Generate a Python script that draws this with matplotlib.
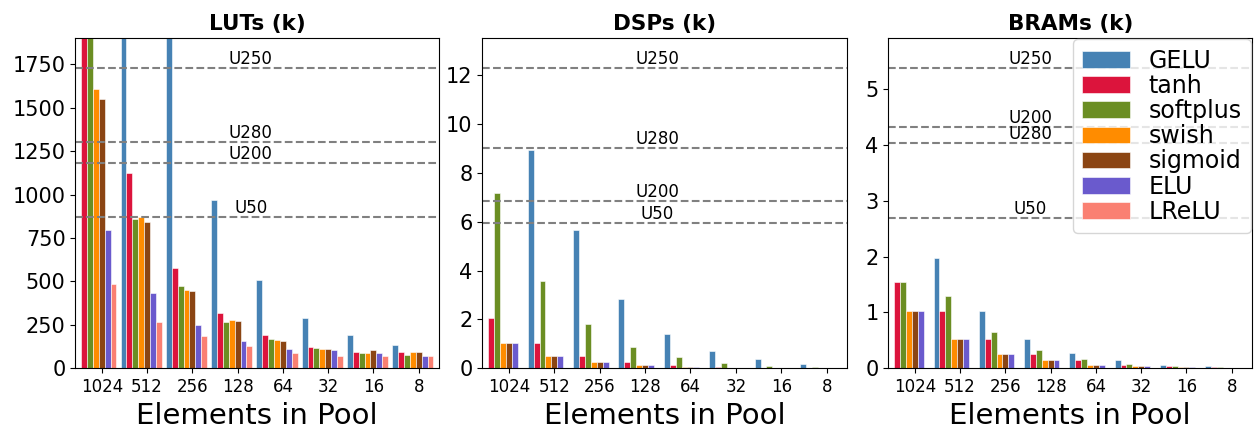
import numpy as np
import matplotlib
matplotlib.use("Agg")
import matplotlib.pyplot as plt
from matplotlib.ticker import MultipleLocator

pool_sizes = ["1024", "512", "256", "128", "64", "32", "16", "8"]
activations = ["GELU", "tanh", "softplus", "swish", "sigmoid", "ELU", "LReLU"]
colors = ["steelblue", "crimson", "olivedrab", "darkorange", "saddlebrown", "slateblue", "salmon"]

# LUT usage (thousands) per activation, one value per pool size
luts_gelu     = [0, 3880, 1940, 971, 507, 289, 191, 136]
luts_tanh     = [2240, 1124, 576, 319, 191, 124, 94, 94]
luts_softplus = [2000, 861, 472, 264, 166, 119, 88, 76]
luts_swish    = [1610, 868, 453, 277, 163, 111, 88, 94]
luts_sigmoid  = [1549, 843, 442, 270, 155, 111, 105, 94]
luts_elu      = [794, 436, 247, 155, 111, 105, 88, 71]
luts_lrelu    = [484, 264, 186, 130, 88, 71, 71, 71]

# DSP usage (thousands)
dsps_gelu     = [0, 8.93, 5.67, 2.84, 1.41, 0.71, 0.37, 0.19]
dsps_tanh     = [2.06, 1.02, 0.49, 0.27, 0.14, 0.05, 0.0, 0.0]
dsps_softplus = [7.19, 3.58, 1.80, 0.87, 0.45, 0.23, 0.10, 0.04]
dsps_swish    = [1.02, 0.49, 0.27, 0.14, 0.05, 0.0, 0.0, 0.0]
dsps_sigmoid  = [1.02, 0.49, 0.27, 0.14, 0.05, 0.0, 0.0, 0.0]
dsps_elu      = [1.02, 0.49, 0.27, 0.14, 0.05, 0.0, 0.0, 0.0]
dsps_lrelu    = [0, 0, 0, 0, 0, 0, 0, 0]

# BRAM usage (thousands)
brams_gelu     = [0, 1.97, 1.03, 0.52, 0.27, 0.14, 0.06, 0.04]
brams_tanh     = [1.545, 1.03, 0.52, 0.26, 0.14, 0.06, 0.04, 0.02]
brams_softplus = [1.545, 1.30, 0.65, 0.33, 0.16, 0.08, 0.04, 0.02]
brams_swish    = [1.03, 0.52, 0.26, 0.14, 0.06, 0.04, 0.02, 0.01]
brams_sigmoid  = [1.03, 0.52, 0.26, 0.14, 0.06, 0.04, 0.02, 0.01]
brams_elu      = [1.03, 0.52, 0.26, 0.14, 0.06, 0.04, 0.02, 0.01]
brams_lrelu    = [0, 0, 0, 0, 0, 0, 0, 0]

# Device capacities (thousands)
devices = ["U250", "U280", "U200", "U50"]
lut_capacity = [1728, 1304, 1182, 872]
dsp_capacity = [12.288, 9.024, 6.840, 5.952]
bram_capacity = [5.376, 4.032, 4.320, 2.688]

panels = [
    ("LUTs (k)", [luts_gelu, luts_tanh, luts_softplus, luts_swish, luts_sigmoid, luts_elu, luts_lrelu],
     lut_capacity, 3.29, 250),
    ("DSPs (k)", [dsps_gelu, dsps_tanh, dsps_softplus, dsps_swish, dsps_sigmoid, dsps_elu, dsps_lrelu],
     dsp_capacity, 3.27, 2),
    ("BRAMs (k)", [brams_gelu, brams_tanh, brams_softplus, brams_swish, brams_sigmoid, brams_elu, brams_lrelu],
     bram_capacity, 2.55, 1),
]

W, H = 1254, 436
fig = plt.figure(figsize=(W / 100, H / 100), dpi=100)
ax_boxes = [(75.3, 364.0), (482.3, 365.0), (888.3, 364.0)]
top_px, bottom_px = 38.0, 368.3

width = 0.13
x = np.arange(len(pool_sizes))

for (title, series, caps, label_x, ystep), (left_px, w_px) in zip(panels, ax_boxes):
    ax = fig.add_axes([left_px / W, (H - bottom_px) / H, w_px / W, (bottom_px - top_px) / H])
    for j, (vals, name, col) in enumerate(zip(series, activations, colors)):
        ax.bar(x + (j - 4) * width, vals, width, color=col, label=name,
               edgecolor="white", linewidth=0.4)
    for dev, cap in zip(devices, caps):
        ax.axhline(cap, color="gray", linestyle="--", linewidth=1.5)
        ax.text(label_x, cap, dev, ha="center", va="bottom", fontsize=12)
    ax.set_xlim(-4.5 * width, len(x) - 1 + 3.5 * width)
    ax.set_ylim(0, 1.1 * max(caps))
    ax.yaxis.set_major_locator(MultipleLocator(ystep))
    ax.set_xticks(x)
    ax.set_xticklabels(pool_sizes, fontsize=12)
    ax.tick_params(axis="y", labelsize=15)
    ax.set_title(title, fontsize=15.5, fontweight="bold")
    ax.set_xlabel("Elements in Pool", fontsize=21)
    if title.startswith("BRAM"):
        ax.legend(loc="upper right", fontsize=17, labelspacing=0.05,
                  borderaxespad=0.05, borderpad=0.4)

fig.savefig("out.png", dpi=100)
